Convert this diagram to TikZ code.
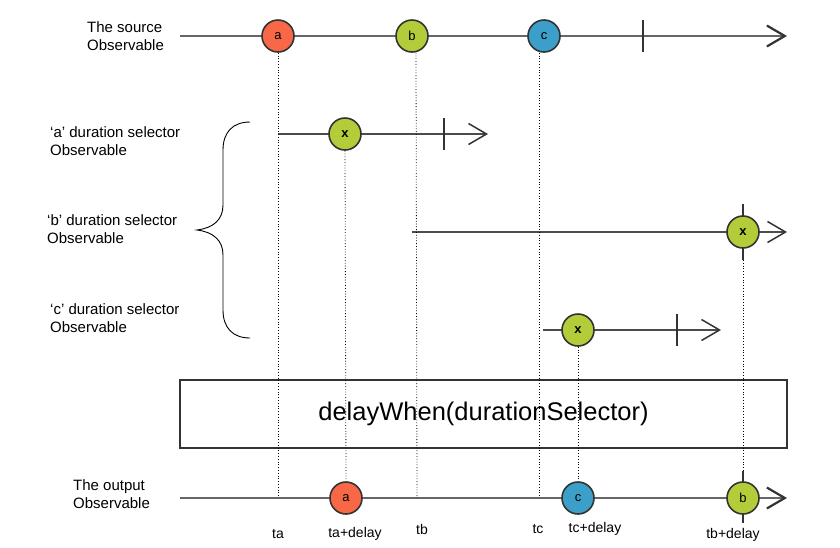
\documentclass[tikz,border=0pt]{standalone}
\usepackage{fontspec}
\setmainfont{Liberation Sans}
\usetikzlibrary{arrows.meta}
\definecolor{mA}{HTML}{F96846}
\definecolor{mB}{HTML}{B3CC3A}
\definecolor{mC}{HTML}{3B9FCA}
\begin{document}
\begin{tikzpicture}[x=1pt,y=-1pt,
    marble/.style={circle,draw=black!80,line width=1.6pt,minimum size=32pt,inner sep=0pt,font=\fontsize{13}{13}\selectfont},
    axis/.style={draw=black!60,line width=2.2pt,-{Straight Barb[length=18pt,width=21pt,color=black!80]}},
    subaxis/.style={draw=black!70,line width=1.5pt,-{Straight Barb[length=18pt,width=21pt,color=black!80]}},
    done/.style={draw=black!80,line width=1.6pt},
    guide/.style={dotted,line width=0.8pt},
    lbl/.style={align=left,anchor=west,inner sep=0pt,font=\fontsize{15}{18.5}\selectfont},
    tlbl/.style={inner sep=0pt,font=\fontsize{14}{14}\selectfont}]
\useasboundingbox (0,0) rectangle (840,547);
% time rows: source, three selectors, output
\coordinate (s0) at (180,36);  \coordinate (s1) at (787,36);
\coordinate (a0) at (278,134); \coordinate (a1) at (488,134);
\coordinate (b0) at (412,232); \coordinate (b1) at (787,232);
\coordinate (c0) at (543,330); \coordinate (c1) at (721,330);
\coordinate (o0) at (180,498); \coordinate (o1) at (787,498);
\coordinate (ta) at (278,498); \coordinate (tb) at (417,498); \coordinate (tc) at (539,498);
\draw[axis] (s0) -- (s1);
\draw[subaxis] (a0) -- (a1);
\draw[subaxis] (b0) -- (b1);
\draw[subaxis] (c0) -- (c1);
\draw[axis] (o0) -- (o1);
% completion ticks
\foreach \x/\y/\h in {643/36/16, 444/134/16, 677/330/16, 743/232/28, 743/497/26}
    \draw[done] (\x,\y-\h) -- (\x,\y+\h);
\coordinate (xbend) at (743,260); \coordinate (obtop) at (743,471);
% left labels and brace
\node[lbl] (lsrc) at (87,36) {The source\\Observable};
\node[lbl] (lsa) at (50,141) {‘a’ duration selector\\Observable};
\node[lbl] (lsb) at (47,229) {‘b’ duration selector\\Observable};
\node[lbl] (lsc) at (50,318) {‘c’ duration selector\\Observable};
\node[lbl] (lout) at (73,494) {The output\\Observable};
\draw[line width=0.9pt] (250,122) .. controls (233,122) and (223,132) .. (223,150) -- (223,205)
    .. controls (223,220) and (213,228) .. (197,230) .. controls (213,232) and (223,240) .. (223,255)
    -- (223,310) .. controls (223,328) and (233,338) .. (250,338);
% operator box
\node[draw=black!80,line width=1.6pt,minimum width=607pt,minimum height=68pt,inner sep=0pt,
    font=\fontsize{25.5}{25.5}\selectfont] (op) at (483.5,414) {delayWhen(durationSelector)};
% marbles
\node[marble,fill=mA] (sa) at (278,36) {a};
\node[marble,fill=mB] (sb) at (412,36) {b};
\node[marble,fill=mC] (sc) at (544,36) {c};
\foreach \n/\x/\y in {xa/345/134, xb/743/232, xc/578/330}
    \node[marble,fill=mB,font=\fontsize{13}{13}\selectfont\bfseries] (\n) at (\x,\y) {x};
\node[marble,fill=mA] (oa) at (346,498) {a};
\node[marble,fill=mC] (oc) at (578,498) {c};
\node[marble,fill=mB] (ob) at (743,498) {b};
% guides
\draw[guide] (sa.south) -- (ta);
\draw[guide] ([xshift=4pt]sb.south) -- (tb);
\draw[guide] ([xshift=-5pt]sc.south) -- (tc);
\draw[guide] (xa.south) -- (oa.north);
\draw[guide] (xc.south) -- (oc.north);
\draw[guide] (xbend) -- (obtop);
% time labels
\node[tlbl] (lta) at (278,534) {ta};
\node[tlbl] (ltad) at (355,534) {ta+delay};
\node[tlbl] (ltb) at (422,529) {tb};
\node[tlbl] (ltc) at (538,529) {tc};
\node[tlbl] (ltcd) at (595,529) {tc+delay};
\node[tlbl] (ltbd) at (733,535) {tb+delay};
\end{tikzpicture}
\end{document}
